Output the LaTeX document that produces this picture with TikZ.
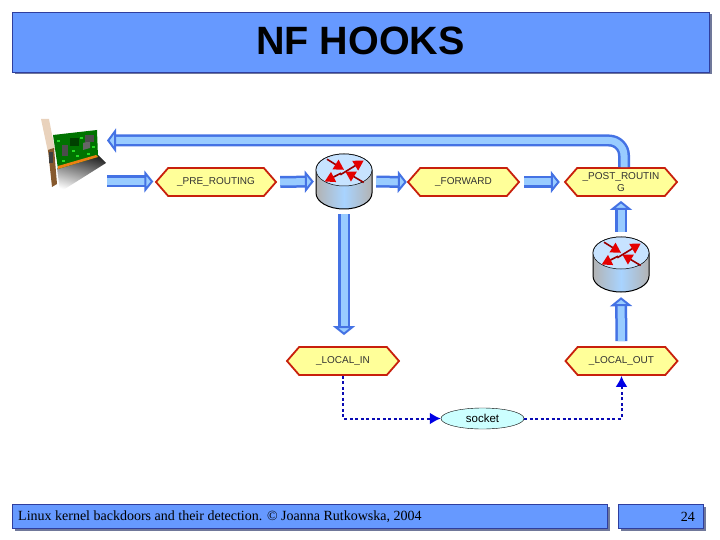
\documentclass[tikz,border=0pt]{standalone}
\usepackage{fontspec}
\setmainfont{Liberation Sans}
\newfontfamily\footfont{Liberation Serif}
\usetikzlibrary{arrows.meta,shapes.symbols,shapes.geometric,shadows}
\definecolor{barblue}{HTML}{6699FF}
\definecolor{barline}{HTML}{2F3E9E}
\definecolor{barshadow}{HTML}{70789A}
\definecolor{blocklight}{HTML}{99CCFF}
\definecolor{blockline}{HTML}{4472E4}
\definecolor{hookfill}{HTML}{FFFF99}
\definecolor{hookline}{HTML}{C8200C}
\definecolor{socketfill}{HTML}{CCFFFF}
\definecolor{ipcblue}{HTML}{0A0AB4}
\tikzset{
  bar/.style={draw=barline, fill=barblue, line width=0.9pt, inner sep=0pt,
    drop shadow={shadow xshift=2.5pt, shadow yshift=-2.5pt, fill=barshadow, opacity=1}},
  hook/.style={signal, signal to=west and east, signal pointer angle=98,
    draw=hookline, fill=hookfill, line width=1.8pt, inner sep=0pt, minimum height=28pt,
    align=center, text=black!80, font=\fontsize{10}{11.5}\selectfont},
  routerbox/.style={inner sep=0pt, minimum width=56pt, minimum height=55pt},
  flow/.style={line width=2.5pt, draw=blockline, double=blocklight, double distance=7pt,
    -{Triangle[open, fill=blocklight, line width=2pt, length=9pt, width=22pt]}},
  ipc/.style={draw=ipcblue, line width=2pt, dash pattern=on 3pt off 2.5pt, -{Latex[length=11pt, width=12pt, fill=blue!90!black, color=blue!90!black]}},
  router/.pic={
    \draw[line width=1pt, left color=gray!60, right color=gray!60, middle color=blocklight!85!white]
      (-28,-11.5) -- (-28,11.5) arc[start angle=180, end angle=360, x radius=28pt, y radius=16pt]
      -- (28,-11.5) arc[start angle=0, end angle=180, x radius=28pt, y radius=16pt] -- cycle;
    \draw[line width=0.5pt, fill=blocklight!55!white] (0,-11.5) ellipse[x radius=28pt, y radius=16pt];
    \foreach \xa/\ya/\xb/\yb in {-17/-22.3/0/-11.7, 19.7/1/1.3/-10, -3.7/-6.7/19.7/-21, -3/-8.3/-19.3/0}
      \draw[draw=red!60!black, line width=1.6pt, -{Triangle[fill=red!90!black, color=red!90!black, length=10pt, width=11pt]}] (\xa,\ya) -- (\xb,\yb);
  }
}
\begin{document}
\begin{tikzpicture}[x=1pt, y=-1pt]
  \useasboundingbox (0,0) rectangle (720,540);

  \node[bar, minimum width=697pt, minimum height=60pt] (title) at (360.5,42) {};
  \node[font=\fontsize{39.5}{40}\bfseries\selectfont] (titletext) at (360.5,41) {NF HOOKS};
  \node[bar, minimum width=595pt, minimum height=24pt] (footbar) at (309.5,516) {};
  \node[anchor=west, inner sep=0pt, font=\footfont\fontsize{14}{16}\selectfont] (foottext) at (18,517) {Linux kernel backdoors and their detection. © Joanna Rutkowska, 2004};
  \node[bar, minimum width=85pt, minimum height=24pt] (pagebar) at (660.5,516) {};
  \node[anchor=east, inner sep=0pt, font=\footfont\fontsize{14}{16}\selectfont] (pagenum) at (695,517) {24};

  \shade[top color=black!85, bottom color=white, shading angle=-15] (57,168) -- (98,155) -- (106,163) -- (60,192) -- cycle;
  \fill[brown!35!white] (41,119) -- (49,119) -- (55,150) -- (48,152) -- cycle;
  \fill[brown!70!black] (48,150) -- (54,148) -- (57,184) -- (52,187) -- cycle;
  \fill[black!75] (49,152) rectangle (53,163);
  \fill[green!45!black] (53,135) -- (97,130) -- (98,157) -- (58,169) -- cycle;
  \fill[orange!70!brown] (58,166) -- (96,155) -- (98,157) -- (58,169) -- cycle;
  \fill[black!70] (62,145) rectangle (68,156);
  \fill[black!60] (83,150) -- (90,148) -- (90,141) -- (83,143) -- cycle;
  \fill[black!70] (85,135) rectangle (94,142);
  \fill[green!25!black] (70,138) rectangle (79,146);
  \foreach \xa/\ya in {57/140, 72/150, 76/155, 80/137, 92/146, 62/160, 87/153}
    \fill[green!70!gray] (\xa,\ya) rectangle ++(2.5,2);

  \coordinate (nicin) at (107,181.5);
  \coordinate (nicout) at (107,140.5);
  \node[hook, minimum width=120pt] (pre) at (216,182) {\_PRE\_ROUTING};
  \node[hook, minimum width=111pt] (fwd) at (463.5,182) {\_FORWARD};
  \node[hook, minimum width=112pt] (post) at (621,182) {\_POST\_ROUTIN\\G};
  \node[hook, minimum width=112pt] (lin) at (343,361) {\_LOCAL\_IN};
  \node[hook, minimum width=112pt] (lout) at (621.5,361) {\_LOCAL\_OUT};
  \node[ellipse, draw=black, line width=0.4pt, fill=socketfill, inner sep=0pt, minimum width=83pt, minimum height=21pt, font=\fontsize{11.5}{13}\selectfont] (socket) at (482.5,418.5) {socket};
  \node[routerbox] (rtr1) at (344,181.5) {};
  \node[routerbox] (rtr2) at (621,264.5) {};
  \pic at (rtr1) {router};
  \pic at (rtr2) {router};

  \draw[flow, shorten >=1.5pt] (nicin) -- (pre.west |- nicin);
  \draw[flow, shorten <=3pt, shorten >=2pt] (pre.east) -- (rtr1.west);
  \draw[flow, shorten <=4pt] (rtr1.east) -- (fwd.west);
  \draw[flow, shorten <=4pt, shorten >=4pt] (fwd.east) -- (post.west);
  \draw[flow, shorten <=5pt, shorten >=11pt] (rtr1.south) -- (rtr1.south |- lin.north);
  \draw[flow, shorten <=5pt, shorten >=5pt] (lout.north) -- (rtr2.south);
  \draw[flow, shorten <=5pt, shorten >=4pt] (rtr2.north) -- (post.south);
  \draw[flow, rounded corners=15pt, -{Triangle[open, fill=blocklight, line width=2pt, length=9pt, width=24pt]}] ([xshift=3pt]post.north) |- (nicout);
  \draw[ipc] (lin.south) |- (socket.west);
  \draw[ipc] (socket.east) -| (lout.south);
\end{tikzpicture}
\end{document}
